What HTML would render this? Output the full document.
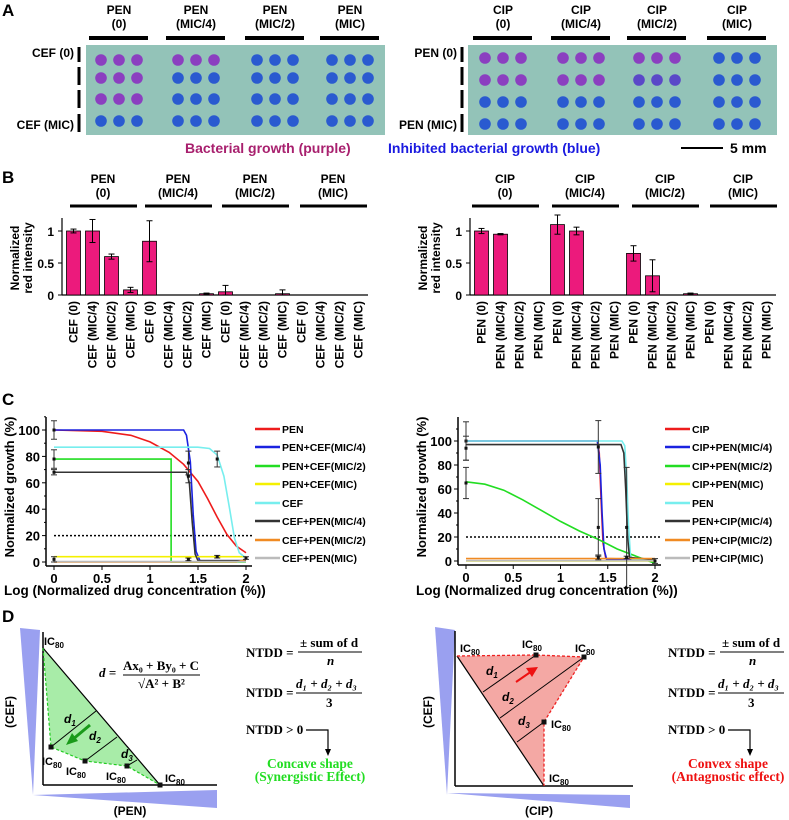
<!DOCTYPE html>
<html><head><meta charset="utf-8"><style>
body{margin:0;background:#fff}
svg{display:block;font-family:"Liberation Sans",sans-serif;font-weight:bold}
</style></head><body>
<svg id="fig" width="789" height="820" viewBox="0 0 789 820" xmlns="http://www.w3.org/2000/svg">
<g font-size="17">
<text x="2" y="16">A</text>
<text x="2" y="183">B</text>
<text x="2" y="405">C</text>
<text x="2" y="622">D</text>
</g>
<g id="A"></g>
<g id="B"></g>
<g id="C"></g>
<g id="D"></g>
</svg>
<script>
// ---------- data ----------
const concLabels = ["(0)","(MIC/4)","(MIC/2)","(MIC)"];
const barsLeft = [1.0,1.0,0.6,0.08,0.84,0,0,0.02,0.05,0,0,0.02,0,0,0,0];
const errsLeft = [0.03,0.18,0.04,0.04,0.32,0,0,0.01,0.1,0,0,0.06,0,0,0,0];
const barsRight = [1.0,0.95,0,0,1.1,1.0,0,0,0.65,0.3,0,0.02,0,0,0,0];
const errsRight = [0.04,0.01,0,0,0.15,0.06,0,0,0.12,0.25,0,0.01,0,0,0,0];
const bTicks = [0,0.5,1];
const bTickLabels = ["0","0.5","1"];
// plate: 1 = purple (growth), 0 = blue
const plateLeft = [[1,1,0,0],[1,0,0,0],[1,0,0,0],[0,0,0,0]];
const plateRight = [[1,1,1,0],[1,1,0.5,0],[0,0,0,0],[0,0,0,0]];
const cTicksX = [0,0.5,1,1.5,2];
const cTicksXLabels = ["0","0.5","1","1.5","2"];
const cTicksY = [0,20,40,60,80,100];
const leftNames = ["PEN","PEN+CEF(MIC/4)","PEN+CEF(MIC/2)","PEN+CEF(MIC)","CEF","CEF+PEN(MIC/4)","CEF+PEN(MIC/2)","CEF+PEN(MIC)"];
const rightNames = ["CIP","CIP+PEN(MIC/4)","CIP+PEN(MIC/2)","CIP+PEN(MIC)","PEN","PEN+CIP(MIC/4)","PEN+CIP(MIC/2)","PEN+CIP(MIC)"];
const seriesColors = ["#ee1c1c","#1a22e0","#22dd22","#f4f000","#77eeee","#333333","#f08a22","#bbbbbb"];
const leftSeries = [
 [[0,100],[0.5,99],[0.8,96],[1,91],[1.2,83],[1.35,74],[1.5,61],[1.6,48],[1.7,34],[1.8,21],[1.9,12],[2,7]],
 [[0,100],[1.35,100],[1.38,96],[1.42,76],[1.45,36],[1.48,8],[1.52,1],[2,1]],
 [[0,78],[1.22,78],[1.22,0],[2,0]],
 [[0,4],[2,4]],
 [[0,87],[1.5,87],[1.62,86],[1.7,81],[1.77,65],[1.83,40],[1.88,18],[1.93,7],[2,3]],
 [[0,68],[1.38,68],[1.41,60],[1.44,30],[1.47,6],[1.5,1],[2,1]],
 [[0,0],[1.9,0],[2,2]],
 [[0,0.3],[2,0.3]]
];
const rightSeries = [
 [[0,100],[1.39,100],[1.41,90],[1.43,50],[1.45,15],[1.48,2],[2,1]],
 [[0,100],[1.39,100],[1.42,80],[1.44,40],[1.46,10],[1.49,1],[2,1]],
 [[0,66],[0.2,64],[0.4,59],[0.6,51],[0.8,42],[1,33],[1.2,25],[1.4,18],[1.6,10],[1.8,4],[2,-2]],
 [[0,0],[2,0]],
 [[0,100],[1.65,100],[1.68,96],[1.7,70],[1.72,30],[1.74,5],[1.76,1],[2,1]],
 [[0,97],[1.64,97],[1.67,90],[1.69,60],[1.71,20],[1.73,3],[2,1]],
 [[0,2],[2,2]],
 [[0,0.3],[2,0.3]]
];
const leftErr = [[0,100,7],[0,78,7],[0,68,2],[0,2,2],[1.4,75,9],[1.4,65,5],[1.4,2,1],[1.7,78,6],[1.7,4,1],[2,3,1]];
const rightErr = [[0,100,16],[0,94,10],[0,65,13],[1.4,95,22],[1.4,28,24],[1.4,3,2],[1.7,28,50],[1.7,3,1],[2,0,2]];

// ---------- helpers ----------
const NS="http://www.w3.org/2000/svg";
function mk(parent,tag,attrs,text){const e=document.createElementNS(NS,tag);for(const k in attrs)e.setAttribute(k,attrs[k]);if(text!==undefined)e.textContent=text;parent.appendChild(e);return e;}

// ---------- Panel A ----------
const A=document.getElementById('A');
function plate(x0,x1,drug,other,groupXs,mat,rowLabelX,rowYs){
  const r=mk(A,'rect',{x:x0,y:45,width:x1-x0,height:90,fill:'#93c3b8'});
  
  
  groupXs.forEach((gx,gi)=>{
    const h1=mk(A,'text',{x:gx+18,y:14,'font-size':12,'text-anchor':'middle'},drug);
    
    
    mk(A,'text',{x:gx+18,y:28,'font-size':12,'text-anchor':'middle'},concLabels[gi]);
    mk(A,'line',{x1:gx-12,x2:gx+47,y1:38,y2:38,stroke:'#000','stroke-width':4});
    rowYs.forEach((ry,ri)=>{
      const v=mat[ri][gi];
      const col=v===1?'#8b3fc0':(v===0.5?'#5a48c8':'#2a5ad0');
      for(let k=0;k<3;k++){
        const d=mk(A,'circle',{cx:gx+k*18,cy:ry,r:5.8,fill:col});
        
        
      }
    });
  });
  [[47,62],[67,85],[90,108],[114,132]].forEach(s=>mk(A,'line',{x1:rowLabelX,x2:rowLabelX,y1:s[0],y2:s[1],stroke:'#000','stroke-width':3}));
  mk(A,'text',{x:rowLabelX-5,y:57,'font-size':12,'text-anchor':'end'},other+' (0)');
  mk(A,'text',{x:rowLabelX-5,y:129,'font-size':12,'text-anchor':'end'},other+' (MIC)');
}
plate(86,385,'PEN','CEF',[101,178,257,332],plateLeft,79,[60,78,99,121]);
plate(468,777,'CIP','PEN',[485,563,639,719],plateRight,462,[58,80,102,124]);
mk(A,'text',{x:185,y:153,'font-size':14,fill:'#a8206e'},'Bacterial growth (purple)');
mk(A,'text',{x:388,y:153,'font-size':14,fill:'#1a1ae0'},'Inhibited bacterial growth (blue)');
mk(A,'line',{x1:681,x2:723,y1:148,y2:148,stroke:'#000','stroke-width':2});
mk(A,'text',{x:730,y:153,'font-size':14},'5 mm');

// ---------- Panel B ----------
const B=document.getElementById('B');
function barChart(ax,drug,other,vals,errs,groupXs){
  const y0=295,y1=231,top=218,right=ax+306;
  const ys=v=>y0-(y0-y1)*v;
  const slot=(right-ax-2)/16;
  groupXs.forEach((gx,gi)=>{
    mk(B,'text',{x:gx,y:183,'font-size':12,'text-anchor':'middle'},drug);
    mk(B,'text',{x:gx,y:197,'font-size':12,'text-anchor':'middle'},concLabels[gi]);
    mk(B,'line',{x1:gx-33,x2:gx+34,y1:206,y2:206,stroke:'#000','stroke-width':3});
  });
  mk(B,'line',{x1:ax,x2:ax,y1:top,y2:y0,stroke:'#000','stroke-width':1.2});
  mk(B,'line',{x1:ax,x2:right,y1:y0,y2:y0,stroke:'#000','stroke-width':1.2});
  bTicks.forEach((t,i)=>{
    mk(B,'line',{x1:ax-4,x2:ax,y1:ys(t),y2:ys(t),stroke:'#000'});
    mk(B,'text',{x:ax-8,y:ys(t)+5,'font-size':12,'text-anchor':'end'},bTickLabels[i]);
  });
  vals.forEach((v,i)=>{
    const x=ax+2+i*slot+2.5, w=slot-5;
    const r=mk(B,'rect',{x:x,y:ys(v),width:w,height:y0-ys(v),fill:'#ec1a7c',stroke:'#000','stroke-width':0.8});
    
    
    if(errs[i]>0){
      const cx=x+w/2;
      mk(B,'line',{x1:cx,x2:cx,y1:ys(v+errs[i]),y2:ys(Math.max(0,v-errs[i])),stroke:'#000'});
      mk(B,'line',{x1:cx-3,x2:cx+3,y1:ys(v+errs[i]),y2:ys(v+errs[i]),stroke:'#000'});
      mk(B,'line',{x1:cx-3,x2:cx+3,y1:ys(Math.max(0,v-errs[i])),y2:ys(Math.max(0,v-errs[i])),stroke:'#000'});
    }
    const cx=x+w/2+4;
    const t=mk(B,'text',{x:cx,y:301,'font-size':12,'text-anchor':'end',transform:`rotate(-90 ${cx} 301)`},other+' '+concLabels[i%4]);
    
    
  });
  const yt=mk(B,'text',{x:0,y:0,'font-size':12,'text-anchor':'middle',transform:`translate(${ax-43} 258) rotate(-90)`});
  mk(yt,'tspan',{x:0,dy:0},'Normalized');
  mk(yt,'tspan',{x:0,dy:13},'red intensity');
  
  
}
barChart(62,'PEN','CEF',barsLeft,errsLeft,[103,178,255,333]);
barChart(470,'CIP','PEN',barsRight,errsRight,[505,585,665,743]);

// ---------- Panel C ----------
const C=document.getElementById('C');
function lineChart(x0,x2,y0,y100,series,names,errs,legX,legYs){
  const sx=v=>x0+(x2-x0)*v/2, sy=v=>y0-(y0-y100)*v/100;
  const axY=y0+4, top=417;
  mk(C,'line',{x1:x0-8,x2:x0-8,y1:top,y2:axY,stroke:'#000','stroke-width':1.5});
  mk(C,'line',{x1:x0-8,x2:x2+6,y1:axY,y2:axY,stroke:'#000','stroke-width':1.5});
  cTicksY.forEach(t=>{
    mk(C,'line',{x1:x0-12,x2:x0-8,y1:sy(t),y2:sy(t),stroke:'#000'});
    mk(C,'line',{x1:x0-10,x2:x0-8,y1:sy(t+10),y2:sy(t+10),stroke:'#000'});
    mk(C,'text',{x:x0-14,y:sy(t)+5,'font-size':13,'text-anchor':'end'},String(t));
  });
  cTicksX.forEach((t,i)=>{
    mk(C,'line',{x1:sx(t),x2:sx(t),y1:axY,y2:axY+4,stroke:'#000'});
    mk(C,'text',{x:sx(t),y:axY+17,'font-size':13,'text-anchor':'middle'},cTicksXLabels[i]);
  });
  mk(C,'line',{x1:x0,x2:x2+6,y1:sy(20),y2:sy(20),stroke:'#000','stroke-width':1.5,'stroke-dasharray':'2,2'});
  series.forEach((s,i)=>{
    const p=mk(C,'polyline',{points:s.map(q=>sx(q[0])+','+sy(q[1])).join(' '),fill:'none',stroke:seriesColors[i],'stroke-width':1.6});
    
    
    mk(C,'line',{x1:legX,x2:legX+25,y1:legYs[i],y2:legYs[i],stroke:seriesColors[i],'stroke-width':2.5});
    const t=mk(C,'text',{x:legX+27,y:legYs[i]+4,'font-size':10.5},names[i]);
    
    
  });
  errs.forEach(e=>{
    const cx=sx(e[0]);
    mk(C,'line',{x1:cx,x2:cx,y1:sy(e[1]+e[2]),y2:sy(e[1]-e[2]),stroke:'#333'});
    mk(C,'line',{x1:cx-3,x2:cx+3,y1:sy(e[1]+e[2]),y2:sy(e[1]+e[2]),stroke:'#333'});
    mk(C,'line',{x1:cx-3,x2:cx+3,y1:sy(e[1]-e[2]),y2:sy(e[1]-e[2]),stroke:'#333'});
    mk(C,'rect',{x:cx-1.5,y:sy(e[1])-1.5,width:3,height:3,fill:'#111'});
  });
  const yt=mk(C,'text',{x:0,y:0,'font-size':13,'text-anchor':'middle',transform:`translate(${x0-40} 487) rotate(-90)`},'Normalized growth (%)');
  
  
  const xt=mk(C,'text',{x:x0-50,y:595,'font-size':13.5},'Log (Normalized drug concentration (%))');
  
  
}
const legRows=[429,447,466,484,503,521,540,558];
lineChart(54,246,562,430,leftSeries,leftNames,leftErr,255,legRows);
lineChart(466,655,561,441,rightSeries,rightNames,rightErr,665,legRows);

// ---------- Panel D ----------
const D=document.getElementById('D');
function ic(x,y,anchor){
  const t=mk(D,'text',{x:x,y:y,'font-size':11,'text-anchor':anchor||'start'});
  mk(t,'tspan',{},'IC');mk(t,'tspan',{'font-size':8,dy:3},'80');
  
  
}
function serif(x,y,txt,opts){return mk(D,'text',Object.assign({x:x,y:y,'font-family':'Liberation Serif','font-size':13},opts||{}),txt);}
function dlab(x,y,n){
  const t=mk(D,'text',{x:x,y:y,'font-size':12,'font-style':'italic'});
  mk(t,'tspan',{},'d');mk(t,'tspan',{'font-size':8,dy:3},String(n));
}
// wedges
mk(D,'polygon',{points:'20,628 40,630 33,795',fill:'#9aa0f0'});
mk(D,'polygon',{points:'33,795 217,790 217,808',fill:'#9aa0f0'});
mk(D,'polygon',{points:'435,627 455,630 447,795',fill:'#9aa0f0'});
mk(D,'polygon',{points:'447,793 630,795 630,808',fill:'#9aa0f0'});
// left plot
mk(D,'polygon',{points:'43,648 51,747 85,761 127,766 160,785',fill:'#a8eca8'});
mk(D,'line',{x1:43,x2:43,y1:632,y2:785,stroke:'#000','stroke-width':1.5});
mk(D,'line',{x1:43,x2:217,y1:785,y2:785,stroke:'#000','stroke-width':1.5});
mk(D,'line',{x1:43,x2:160,y1:648,y2:785,stroke:'#000','stroke-width':1.2});
mk(D,'polyline',{points:'43,648 51,747 85,761 127,766 160,785',fill:'none',stroke:'#22cc22','stroke-width':1.2,'stroke-dasharray':'3,2'});
[[51,747,96,711],[85,761,117,737],[127,766,137,760]].forEach(l=>mk(D,'line',{x1:l[0],y1:l[1],x2:l[2],y2:l[3],stroke:'#000'}));
[[51,747],[85,761],[127,766],[160,785]].forEach(p=>mk(D,'rect',{x:p[0]-2.5,y:p[1]-2.5,width:5,height:5,fill:'#111'}));
mk(D,'path',{d:'M90,725 L72,740',stroke:'#1a9a1a','stroke-width':3});
mk(D,'polygon',{points:'66,745 72,733 78,741',fill:'#1a9a1a'});
ic(44,645);ic(42,765);ic(66,775);ic(106,780);ic(165,782);
dlab(64,723,1);dlab(89,740,2);dlab(121,758,3);
serif(99,677,'d =',{'font-style':'italic','font-weight':'bold'});
serif(123,670,'Ax₀ + By₀ + C',{'font-weight':'bold'});
mk(D,'line',{x1:123,x2:200,y1:675,y2:675,stroke:'#000'});
serif(138,688,'√A² + B²',{'font-weight':'bold'});
const yL=mk(D,'text',{x:0,y:0,'font-size':12,'text-anchor':'middle',transform:'translate(14 712) rotate(-90)'},'(CEF)');

mk(D,'text',{x:130,y:815,'font-size':12,'text-anchor':'middle'},'(PEN)');
// right plot
mk(D,'polygon',{points:'457,656 536,655 584,657 544,722 544,786',fill:'#f4a8a4'});
mk(D,'line',{x1:455,x2:455,y1:631,y2:786,stroke:'#000','stroke-width':1.5});
mk(D,'line',{x1:455,x2:633,y1:786,y2:786,stroke:'#000','stroke-width':1.5});
mk(D,'line',{x1:457,x2:544,y1:656,y2:786,stroke:'#000','stroke-width':1.2});
mk(D,'polyline',{points:'457,656 536,655 584,657 544,722 544,786',fill:'none',stroke:'#ee2222','stroke-width':1.3,'stroke-dasharray':'3,2'});
[[536,655,483,692],[584,657,500,718],[544,722,517,742]].forEach(l=>mk(D,'line',{x1:l[0],y1:l[1],x2:l[2],y2:l[3],stroke:'#000'}));
[[536,655],[584,657],[544,722]].forEach(p=>mk(D,'rect',{x:p[0]-2.5,y:p[1]-2.5,width:5,height:5,fill:'#111'}));
mk(D,'path',{d:'M516,682 L532,671',stroke:'#ee1111','stroke-width':2});
mk(D,'polygon',{points:'538,667 526,668 532,677',fill:'#ee1111'});
ic(460,652);ic(522,648);ic(575,652);ic(551,728);ic(549,782);
dlab(486,675,1);dlab(502,701,2);dlab(518,725,3);
mk(D,'text',{x:0,y:0,'font-size':12,'text-anchor':'middle',transform:'translate(432 712) rotate(-90)'},'(CEF)');
mk(D,'text',{x:539,y:815,'font-size':12,'text-anchor':'middle'},'(CIP)');
// equations
function eqs(x,color,l1,l2,cOff){
  serif(x,657,'NTDD =',{'font-weight':'bold'});
  serif(x+54,647,'± sum of d',{'font-weight':'bold'});
  mk(D,'line',{x1:x+52,x2:x+116,y1:652,y2:652,stroke:'#000'});
  serif(x+81,665,'n',{'font-weight':'bold','font-style':'italic'});
  serif(x,697,'NTDD =',{'font-weight':'bold'});
  serif(x+50,688,'d₁ + d₂ + d₃',{'font-weight':'bold','font-style':'italic'});
  mk(D,'line',{x1:x+50,x2:x+116,y1:693,y2:693,stroke:'#000'});
  serif(x+80,707,'3',{'font-weight':'bold'});
  serif(x,734,'NTDD > 0',{'font-weight':'bold'});
  mk(D,'polyline',{points:`${x+60},730 ${x+82},730 ${x+82},750`,fill:'none',stroke:'#000','stroke-width':1.2});
  mk(D,'polygon',{points:`${x+79},749 ${x+85},749 ${x+82},756`,fill:'#000'});
  const a=serif(x+cOff,768,l1,{'font-weight':'bold','fill':color,'text-anchor':'middle','font-size':13.5});
  
  serif(x+cOff,781,l2,{'font-weight':'bold','fill':color,'text-anchor':'middle','font-size':13.5});
}
eqs(246,'#22dd22','Concave shape','(Synergistic Effect)',64);
eqs(668,'#ee1111','Convex shape','(Antagnostic effect)',60);
</script>
</body></html>
